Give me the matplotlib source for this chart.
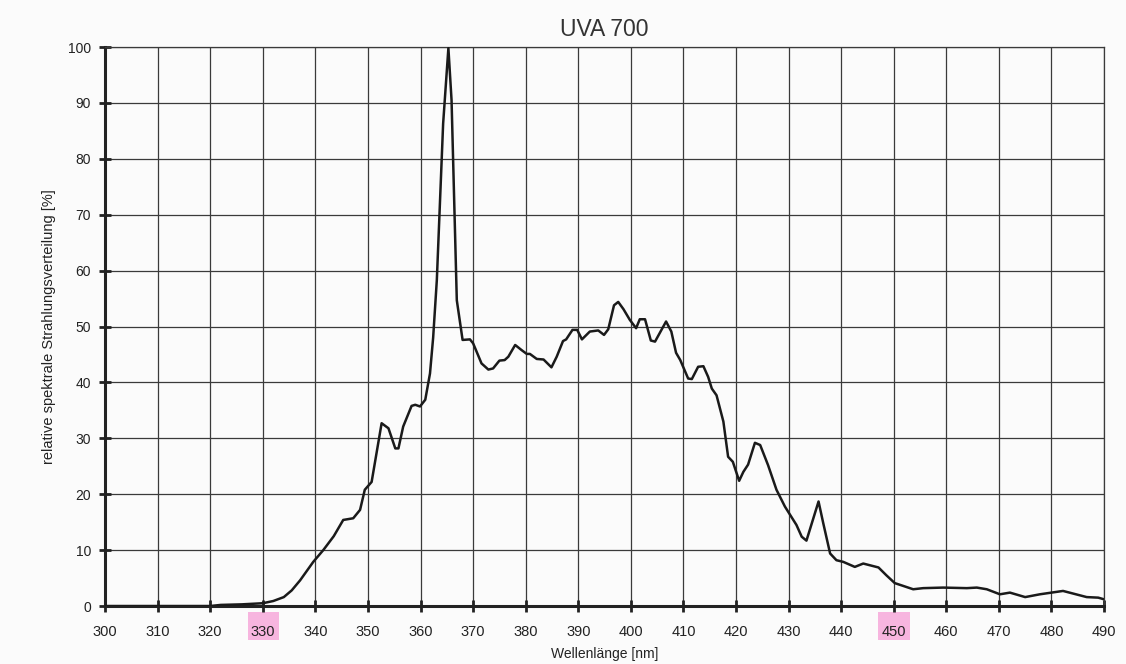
import matplotlib
matplotlib.use('Agg')
import matplotlib.pyplot as plt
from matplotlib.patches import Rectangle
import matplotlib.transforms as mtransforms

# spectrum (nm, relative %)
wavelength = [300, 310, 320, 322, 326, 330, 332, 334, 335.5, 337.1, 339.6, 341.5, 343.5,
              345.3, 347.2, 348.5, 349.4, 350.7, 352.6, 353.9, 355.2, 355.8, 356.7, 358.3,
              359.0, 359.9, 360.9, 361.8, 362.4, 363.1, 364.3, 365.3, 365.9, 366.9, 368.0,
              369.4, 370.0, 371.6, 372.9, 373.8, 375.0, 376.0, 376.7, 378.0, 379.2, 380.2,
              380.8, 382.1, 383.4, 384.9, 385.9, 387.1, 387.7, 388.9, 389.8, 390.7, 392.2,
              393.8, 394.9, 395.7, 396.8, 397.6, 398.6, 399.8, 401.0, 401.7, 402.7, 403.8,
              404.6, 406.7, 407.7, 408.6, 409.4, 410.9, 411.6, 412.8, 413.8, 414.7, 415.4,
              416.3, 417.6, 418.5, 419.4, 420.6, 421.4, 422.3, 423.6, 424.6, 426.1, 427.7,
              429.3, 431.5, 432.5, 433.4, 435.7, 436.6, 437.9, 439.1, 440.4, 442.6, 444.2,
              447.1, 448.6, 450.2, 451.8, 453.7, 455.6, 459.4, 463.9, 465.8, 467.7, 470.2,
              472.1, 475.0, 477.8, 482.2, 486.7, 488.9, 490]
intensity = [0, 0, 0, 0.2, 0.3, 0.5, 0.9, 1.6, 2.8, 4.6, 7.9, 10.0, 12.5,
             15.4, 15.7, 17.2, 20.8, 22.2, 32.7, 31.8, 28.2, 28.2, 32.1, 35.8,
             36.0, 35.7, 36.9, 41.6, 48.0, 58.3, 86.3, 99.8, 90.5, 54.7, 47.6,
             47.7, 47.0, 43.4, 42.3, 42.5, 43.9, 44.0, 44.6, 46.7, 45.8, 45.1,
             45.1, 44.2, 44.1, 42.7, 44.6, 47.4, 47.7, 49.4, 49.4, 47.7, 49.1,
             49.3, 48.5, 49.5, 53.8, 54.4, 53.1, 51.2, 49.7, 51.3, 51.3, 47.5,
             47.3, 50.9, 49.1, 45.3, 44.0, 40.7, 40.6, 42.8, 42.9, 41.0, 38.9,
             37.7, 33.0, 26.7, 25.8, 22.4, 24.0, 25.3, 29.2, 28.8, 25.2, 20.8,
             17.8, 14.5, 12.4, 11.7, 18.7, 14.8, 9.4, 8.2, 7.9, 7.0, 7.6,
             6.9, 5.5, 4.1, 3.6, 3.0, 3.2, 3.3, 3.2, 3.3, 3.0, 2.1,
             2.4, 1.6, 2.1, 2.7, 1.6, 1.5, 1.2]

x_ticks = list(range(300, 491, 10))
y_ticks = list(range(0, 101, 10))
marked_ticks = [330, 450]  # highlighted by hand on the printout

plt.rcParams['font.family'] = ['Liberation Sans', 'DejaVu Sans']

fig = plt.figure(figsize=(11.26, 6.64), dpi=100, facecolor='#fbfbfb')
ax = fig.add_axes([0.0933, 0.0873, 0.8872, 0.8419])
ax.set_facecolor('#fbfbfb')

ax.plot(wavelength, intensity, color='#1a1a1a', linewidth=1.8, zorder=3)

ax.set_xlim(300, 490)
ax.set_ylim(0, 100)
ax.set_xticks(x_ticks)
ax.set_yticks(y_ticks)
ax.grid(True, color='#3a3a3a', linewidth=0.9)
ax.set_axisbelow(True)

for side in ['top', 'right']:
    ax.spines[side].set_linewidth(0.9)
    ax.spines[side].set_color('#3a3a3a')
for side in ['left', 'bottom']:
    ax.spines[side].set_linewidth(2.2)
    ax.spines[side].set_color('#222222')

ax.tick_params(direction='inout', length=8, width=2, colors='#222222')
ax.tick_params(axis='x', labelsize=10.5, pad=10)
ax.tick_params(axis='y', labelsize=10, pad=6)

# pink marker patches behind two of the x labels
trans = mtransforms.blended_transform_factory(ax.transData, ax.transAxes)
for t in marked_ticks:
    ax.add_patch(Rectangle((t - 2.9, -0.061), 6.0, 0.05, transform=trans,
                           facecolor='#f7b5df', edgecolor='none',
                           clip_on=False, zorder=0))

ax.set_title('UVA 700', fontsize=16.5, color='#333333', pad=8)
ax.set_xlabel('Wellenlänge [nm]', fontsize=10, color='#222222')
ax.xaxis.set_label_coords(0.5, -0.074)
ax.set_ylabel('relative spektrale Strahlungsverteilung [%]', fontsize=10.5, color='#222222')
ax.yaxis.set_label_coords(-0.049, 0.5)

plt.savefig('out.png', dpi=100, facecolor=fig.get_facecolor())
